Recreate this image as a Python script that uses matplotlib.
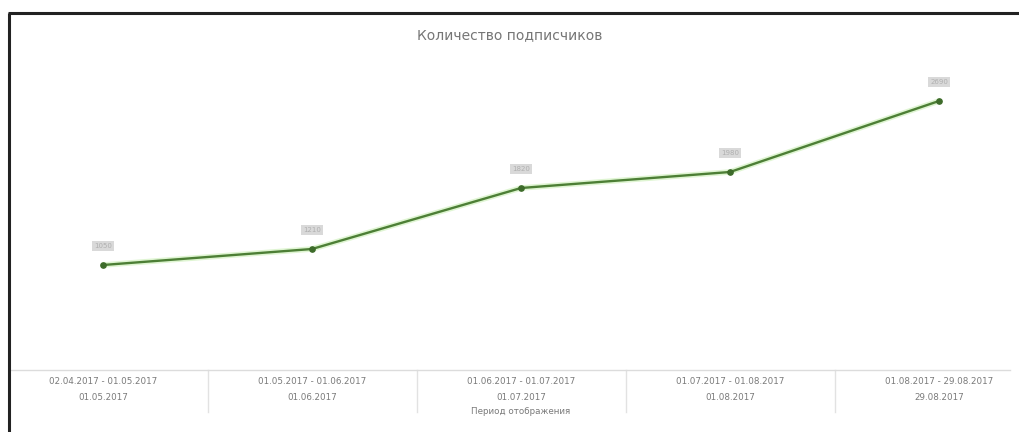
import matplotlib
matplotlib.use("Agg")
import matplotlib.pyplot as plt
from matplotlib.lines import Line2D
import matplotlib.transforms as mtransforms

# Subscriber counts per reporting period
periods = [
    "02.04.2017 - 01.05.2017",
    "01.05.2017 - 01.06.2017",
    "01.06.2017 - 01.07.2017",
    "01.07.2017 - 01.08.2017",
    "01.08.2017 - 29.08.2017",
]
period_ends = ["01.05.2017", "01.06.2017", "01.07.2017", "01.08.2017", "29.08.2017"]
subscribers = [1050, 1210, 1820, 1980, 2690]

title = "Количество подписчиков"
x_title = "Период отображения"

W, H = 1019, 432
fig = plt.figure(figsize=(W / 100, H / 100), dpi=100)
fig.patch.set_facecolor("white")

ax = fig.add_axes([10 / W, 1 - 370 / H, 1000 / W, 320 / H])
xs = list(range(len(subscribers)))
ax.plot(xs, subscribers, color="#dff5d2", lw=4, solid_capstyle="round", zorder=2)
ax.plot(xs, subscribers, color="#4d7f36", lw=1.7, marker="o", ms=3.8,
        mfc="#3d6b2a", mec="#3d6b2a", zorder=3)

ax.set_xlim(-93 / 209, 4 + 71 / 209)
ax.set_ylim(0, 3200)
for s in ("left", "right", "top"):
    ax.spines[s].set_visible(False)
ax.spines["bottom"].set_color("#dcdcdc")
ax.spines["bottom"].set_linewidth(1)
ax.set_xticks([])
ax.set_yticks([])

# value labels above each point
for x, v in zip(xs, subscribers):
    ax.annotate(f"{v}", (x, v), xytext=(0, 11.5), textcoords="offset points",
                ha="center", va="bottom", fontsize=5, color="#b0b0b0",
                bbox=dict(boxstyle="square,pad=0.35", fc="#d9d9d9", ec="none"))

# category labels under the axis
trans = mtransforms.blended_transform_factory(ax.transData, fig.transFigure)
for x, p, e in zip(xs, periods, period_ends):
    ax.text(x, 1 - 381 / H, p, transform=trans, ha="center", va="center",
            fontsize=6.3, color="#7a7a7a")
    ax.text(x, 1 - 398 / H, e, transform=trans, ha="center", va="center",
            fontsize=6.3, color="#7a7a7a")
ax.text(2, 1 - 411 / H, x_title, transform=trans, ha="center", va="center",
        fontsize=6.3, color="#7a7a7a")

# band separators
for b in [0.5, 1.5, 2.5, 3.5]:
    ax.plot([b, b], [1 - 370 / H, 1 - 412 / H], transform=trans, color="#e2e2e2",
            lw=1, clip_on=False)

fig.text(510 / W, 1 - 35 / H, title, ha="center", va="center", fontsize=10,
         color="#767676")

# outer frame (left and top edges)
fig.add_artist(Line2D([9 / W, 9 / W], [0, 1 - 12.5 / H], color="#222222", lw=2.2,
                      solid_capstyle="butt", transform=fig.transFigure))
fig.add_artist(Line2D([8 / W, 1], [1 - 12.5 / H, 1 - 12.5 / H], color="#222222",
                      lw=2.2, solid_capstyle="butt", transform=fig.transFigure))

fig.savefig("out.png", dpi=100)
